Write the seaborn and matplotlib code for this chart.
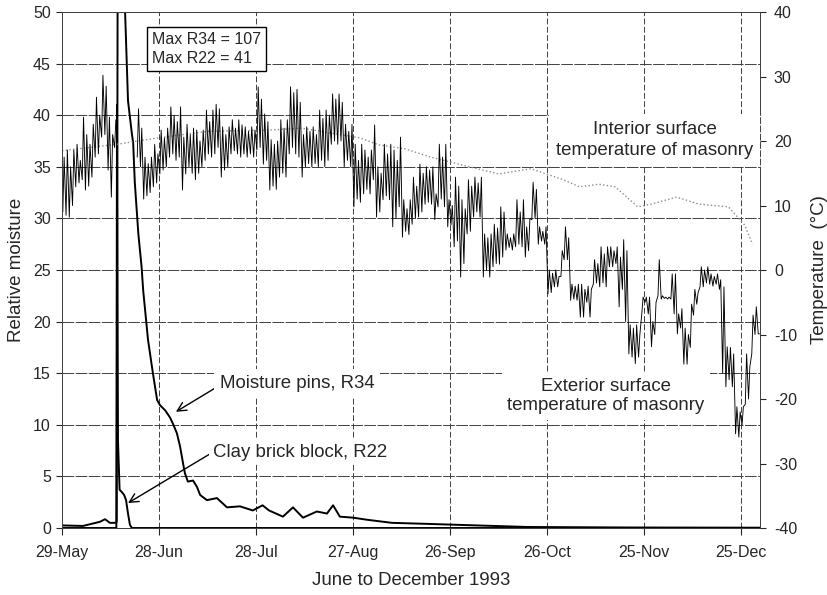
import seaborn as sns
import matplotlib.pyplot as plt
import matplotlib.dates as mdates
import pandas as pd
import numpy as np

start = pd.Timestamp("1993-05-29")
tick_labels = ["29-May", "28-Jun", "28-Jul", "27-Aug", "26-Sep", "26-Oct", "25-Nov", "25-Dec"]

# exterior surface temperature of masonry, daily max / min (deg C), day 0 = 29-May
ext_max = [17.5, 18.6, 16, 18.6, 19.5, 17, 23.7, 21, 19.5, 22.6,
           26.8, 24, 30.2, 28.5, 23.7, 21, 23.3, None, None, None,
           None, None, None, 25, 22, 17.5, 16.5, 17.5, 19.5, 18,
           21.7, 20.5, 22, 25.3, 24, 23, 25.3, 20.6, 22.6, 21,
           22, 21.7, 20, 21.7, 24.8, 23, 24.8, 25.7, 25, 22.2,
           21, 22.2, 23.3, 22, 23.3, 22.5, 22.2, 21.5, 22.2, 21.7,
           28.4, 26.5, 24.2, 23, 20.2, 19.5, 20, 23.3, 22, 23.3,
           28.4, 27.5, 28, 26, 21, 22.2, 21.5, 22.2, 21, 24.8,
           23.5, 24.8, 24, 27.3, 26.5, 27.3, 26, 22.6, 21.5, 22.6,
           19.5, 17, 19.5, 18.6, 17.5, 18.6, 22.5, 16, 15, 19.5,
           18, 19.5, 18.6, 17, 20.6, 10.9, 9.5, 10.9, 14.4, 13,
           16.4, 15, 16, 15.5, 16, 11.8, 19.5, 17.5, 19.5, 10.9,
           10, 14.4, 13, 10.9, 9.5, 14, 13, 14.4, 13.5, 14.4,
           5.6, 5, 5.6, 7.1, 6.5, 9.8, 9, 5.6, 5, 5.6,
           10.9, 9, 10.9, 6.7, 8, 13.6, 12.5, 6.7, 6, 6.7,
           0, -0.5, 0, -1, 3, 6.7, 5, -2.2, -2.5, -2.2,
           -2.2, -3, -2.5, -3, 1.6, 1, 3.6, 2.5, 3.6, 3.6,
           3, 3.6, 2, 4.7, 3, -8.5, -9, -8.5, -10, -4.2,
           -4.2, -4.2, -8, -5, 1.6, -4, -4.2, -4.2, -0.6, -0.6,
           -6.8, -6, -9, -10, -5.3, -3, -3.5, 0.5, 0, 0.5,
           -0.6, -1, -0.6, -1.5, -2.6, -11.9, -12, -13, -21.2, -22,
           -21.2, -13, -15, -7, -5.7, -9.9]
ext_min = [9, 8.5, 8.2, 10, 12.9, 13.5, 14, 12.4, 13, 14.4,
           17.5, 18, 20.6, 21, 15.5, 11.3, 19, None, None, None,
           None, None, None, 17.5, 16, 11, 11.5, 12, 12.9, 13.5,
           14.9, 15.5, 16, 17.5, 18, 17, 17.5, 12.4, 14.9, 16,
           15, 14, 15, 16, 17, 18, 17.5, 18, 19, 14.4,
           15.5, 16, 18, 18.5, 18, 17.5, 18, 17.5, 18, 17.5,
           18.6, 19, 16.4, 17, 12.4, 13, 12.5, 14.4, 15, 14.4,
           18, 19, 18, 17.5, 14.4, 16, 16.5, 16, 16.5, 16,
           17, 16, 17, 19.5, 20, 19.5, 20, 16, 17, 16,
           9.8, 11, 10.5, 11.8, 12.5, 11.8, 14, 8.2, 9, 10.9,
           11.5, 10.9, 6.7, 8, 9.8, 5.1, 6, 5.5, 7.1, 8,
           8.2, 9, 10.2, 10.5, 10.2, 7.8, 9.8, 11, 9.8, 6.7,
           7, 3.6, 4.5, -1.1, 1, 5.6, 6, 8.2, 9, 8.2,
           -1.1, 0, -1.1, 0.5, 1, 0.9, 2, 3.1, 3.5, 3.1,
           3.6, 4, 3.6, 2, 3, 7.8, 8, 4, 4.5, 4,
           -3.7, -3.5, -2.6, -2.6, -1, 1.6, 1.6, -4.7, -4.5, -4.7,
           -7.3, -7.3, -5, -7.3, -2.2, -2, -2.6, -2, -2.6, 0.5,
           0.5, 1, -5.7, -3, -8, -13, -13.5, -14.5, -13.5, -6.8,
           -5, -6.8, -11.9, -10, -4, -4.5, -4.4, -4.5, -4.5, -6.8,
           -9.9, -9, -14.6, -14.6, -12, -7, -5.3, -2.6, -2.6, -2,
           -2.2, -2.5, -2.2, -3, -16, -18.1, -17, -18.1, -25.4, -25.9,
           -24, -20.8, -20, -13, -10, -9.9]

# interior surface temperature of masonry
int_day = [0, 17, 30, 45, 64, 74, 92, 98, 106, 114, 126, 135, 145, 155, 160, 166,
           171, 178, 182, 190, 197, 206, 211, 213.5]
int_temp = [18.5, 19.5, 20.5, 21.5, 21.7, 22, 20.5, 19.4, 18.8, 17.5, 16, 14.9, 15.7, 14,
            12.9, 13.3, 12.9, 9.8, 10.2, 11.3, 10.2, 9.8, 7, 4]

# moisture pins R34
r34_day = [0, 6.5, 11.7, 13.3, 14.8, 16.4, 16.9, 17.5, 18.3, 19.5, 20.4, 21.6, 22.0, 22.5,
           23.6, 24.6, 25.1, 26.6, 28.1, 29.4, 30.3, 31.9, 33.4, 34.3, 35.5, 36.5, 37.4,
           38.0, 38.9, 40.5, 41.7, 42.7, 44.8, 47.9, 51, 55, 59, 62, 64, 68.3, 71.4, 74.5,
           78.8, 81.9, 83.8, 85.9, 90, 94.3, 102, 113, 123, 144, 175, 215.8]
r34_val = [0.25, 0.2, 0.6, 0.85, 0.5, 0.5, 0.6, 107, 80, 50, 41.4, 38.2, 37.3, 33.5,
           28.5, 25.3, 23.0, 18.2, 15.0, 12.4, 11.9, 11.4, 10.7, 10.1, 9.2, 7.9, 6.3,
           5.3, 4.5, 4.6, 4.0, 3.2, 2.7, 2.9, 2.0, 2.1, 1.7, 2.2, 1.7, 1.1, 2.0, 1.0,
           1.6, 1.4, 2.2, 1.1, 1.0, 0.8, 0.5, 0.4, 0.3, 0.1, 0.05, 0.03]

# clay brick block R22
r22_day = [0, 16.8, 17.0, 17.3, 17.8, 18.45, 19.2, 19.8, 20.4, 21.0, 21.6, 215.8]
r22_val = [0, 0, 41, 8.5, 3.7, 3.5, 3.2, 2.7, 1.4, 0.3, 0, 0]


def when(d):
    return start + pd.to_timedelta(np.asarray(d, dtype=float), unit="D")


def xd(d):
    return mdates.date2num(start + pd.Timedelta(days=d))


days = np.arange(len(ext_max))
t = np.column_stack([days + 0.25, days + 0.65]).ravel()
v = np.column_stack([np.array(ext_min, dtype=float), np.array(ext_max, dtype=float)]).ravel()
ext = pd.DataFrame({"t": when(t), "temp": v, "part": (t > 17).astype(int)}).dropna()
inner = pd.DataFrame({"t": when(int_day), "temp": int_temp})
r34 = pd.DataFrame({"t": when(r34_day), "m": r34_val})
r22 = pd.DataFrame({"t": when(r22_day), "m": r22_val})

sns.set_style("white")
plt.rcParams["font.family"] = ["Liberation Sans", "DejaVu Sans"]
plt.rcParams["axes.unicode_minus"] = False

fig = plt.figure(figsize=(8.28, 5.95), dpi=100)
ax = fig.add_axes([0.0749, 0.1126, 0.843, 0.8672])
ax2 = ax.twinx()

sns.lineplot(data=r34, x="t", y="m", color="black", lw=1.4, ax=ax)
sns.lineplot(data=r22, x="t", y="m", color="black", lw=1.4, ax=ax)
sns.lineplot(data=inner, x="t", y="temp", color="0.55", lw=1.0, ls=":", ax=ax2)
sns.lineplot(data=ext, x="t", y="temp", units="part", estimator=None,
             color="black", lw=0.65, ax=ax2)

ax.set_ylim(0, 50)
ax2.set_ylim(-40, 40)
ax.set_xlim(start, start + pd.Timedelta(days=215.8))
ax.set_yticks(range(0, 51, 5))
ax2.set_yticks(range(-40, 41, 10))
ax.set_xticks(pd.to_datetime([l + "-1993" for l in tick_labels], format="%d-%b-%Y"))
ax.xaxis.set_major_formatter(mdates.DateFormatter("%d-%b"))

ax.grid(True, axis="y", color="0.25", lw=0.7, ls=(0, (12, 1.5)))
ax.grid(True, axis="x", color="0.25", lw=0.7, ls=(0, (6, 2.5)))
ax2.grid(False)
for a in (ax, ax2):
    for s in a.spines.values():
        s.set_color("0.25")
        s.set_linewidth(0.7)
ax.spines["left"].set_linestyle((0, (6, 2.5)))
ax2.spines["right"].set_linestyle((0, (6, 2.5)))
ax.tick_params(axis="y", direction="out", length=4, width=0.8, pad=4, labelsize=11.5, left=True)
ax.tick_params(axis="x", direction="out", length=5, width=0.8, pad=7, labelsize=11.5, bottom=True)
ax2.tick_params(axis="y", direction="out", length=4, width=0.8, pad=6, labelsize=11.5, right=True)

ax.set_xlabel("June to December 1993", fontsize=13.4, labelpad=9)
ax.set_ylabel("Relative moisture", fontsize=13.5, labelpad=6)
ax2.set_ylabel("Temperature  (°C)", fontsize=13.5, labelpad=10)
ax2.set_xlabel("")

ax.text(xd(27.8), 46.4, "Max R34 = 107\nMax R22 = 41", ha="left", va="center",
        fontsize=11.5, linespacing=1.35, zorder=5,
        bbox=dict(boxstyle="square,pad=0.3", fc="white", ec="black", lw=1))

ax.annotate("Moisture pins, R34", xy=(xd(35.2), 11.26), xytext=(xd(48.8), 14.0),
            ha="left", va="center", fontsize=13.4, zorder=5,
            bbox=dict(boxstyle="square,pad=0.3", fc="white", ec="none"),
            arrowprops=dict(arrowstyle="->", color="black", lw=1, relpos=(0, 0.4),
                            shrinkA=0, shrinkB=0, mutation_scale=16))
ax.annotate("Clay brick block, R22", xy=(xd(20.4), 2.42), xytext=(xd(46.7), 7.36),
            ha="left", va="center", fontsize=13.4, zorder=5,
            bbox=dict(boxstyle="square,pad=0.2", fc="white", ec="none"),
            arrowprops=dict(arrowstyle="->", color="black", lw=1, relpos=(0, 0.5),
                            shrinkA=0, shrinkB=0, mutation_scale=16))

ax.text(xd(183.3), 37.56, "Interior surface\ntemperature of masonry", ha="center", va="center",
        fontsize=13.4, linespacing=1.3, zorder=5,
        bbox=dict(boxstyle="square,pad=0.4", fc="white", ec="none"))
ax.text(xd(168.2), 12.78, "Exterior surface\ntemperature of masonry", ha="center", va="center",
        fontsize=13.4, linespacing=1.2, zorder=5,
        bbox=dict(boxstyle="square,pad=0.3", fc="white", ec="none"))

fig.savefig("out.png", dpi=100)
